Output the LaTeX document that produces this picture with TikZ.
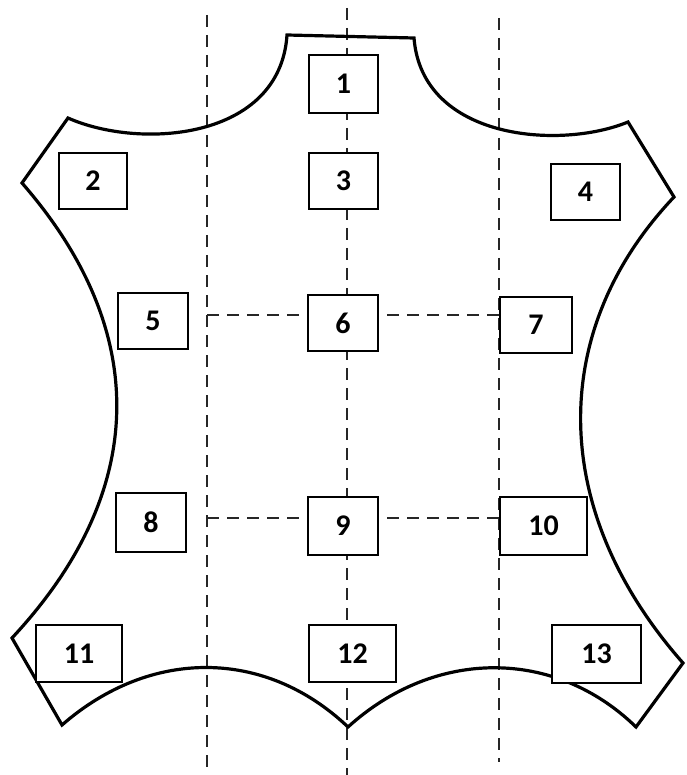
\documentclass[tikz,border=0pt]{standalone}
\usepackage{fontspec}
\setmainfont{Carlito}
\begin{document}
\begin{tikzpicture}[x=1pt,y=-1pt,
  hide/.style={draw,line width=2.2pt,dash pattern=on 12pt off 8pt,black!85},
  outline/.style={draw,line width=3.2pt,line join=miter},
  numbox/.style={draw,line width=2pt,fill=white,inner sep=0pt,font=\fontsize{30}{34}\selectfont\bfseries},
]
\useasboundingbox (0,0) rectangle (686,775);
% dashed guide lines
\coordinate (L1) at (207,15); \coordinate (L2) at (207,775);
\coordinate (C1) at (347,8);  \coordinate (C2) at (347,775);
\coordinate (R1) at (499,18); \coordinate (R2) at (499,762);
\coordinate (H1a) at (207,315); \coordinate (H1b) at (499,315);
\coordinate (H2a) at (207,518); \coordinate (H2b) at (499,518);
\draw[hide] (L1) -- (L2);
\draw[hide] (C1) -- (C2);
\draw[hide] (R1) -- (R2);
\draw[hide] (H1a) -- (H1b);
\draw[hide] (H2a) -- (H2b);
% hide outline
\draw[outline] (287,35) -- (414,38)
  .. controls (422,140) and (560,150) .. (628,122)
  -- (674,197)
  .. controls (548,330) and (548,510) .. (683,663)
  -- (636,727)
  .. controls (555,648) and (435,648) .. (348,727)
  .. controls (265,648) and (150,648) .. (62,725)
  -- (12,638)
  .. controls (150,490) and (150,330) .. (22,183)
  -- (68,118)
  .. controls (140,150) and (280,140) .. (287,35) -- cycle;
% boxes
\node[numbox,minimum width=69pt,minimum height=58pt] (b1) at (343.5,84) {1};
\node[numbox,minimum width=68pt,minimum height=56pt] (b2) at (93,181) {2};
\node[numbox,minimum width=69pt,minimum height=56pt] (b3) at (343.5,181) {3};
\node[numbox,minimum width=69pt,minimum height=56pt] (b4) at (585.5,192) {4};
\node[numbox,minimum width=70pt,minimum height=56pt] (b5) at (153,321) {5};
\node[numbox,minimum width=70pt,minimum height=56pt] (b6) at (343,323) {6};
\node[numbox,minimum width=72pt,minimum height=56pt] (b7) at (536,325) {7};
\node[numbox,minimum width=70pt,minimum height=59pt] (b8) at (151,522.5) {8};
\node[numbox,minimum width=70pt,minimum height=58pt] (b9) at (343,526) {9};
\node[numbox,minimum width=87pt,minimum height=58pt] (b10) at (543.5,526) {10};
\node[numbox,minimum width=86pt,minimum height=57pt] (b11) at (79,653.5) {11};
\node[numbox,minimum width=87pt,minimum height=57pt] (b12) at (352.5,653.5) {12};
\node[numbox,minimum width=89pt,minimum height=58pt] (b13) at (596.5,654) {13};
\end{tikzpicture}
\end{document}
